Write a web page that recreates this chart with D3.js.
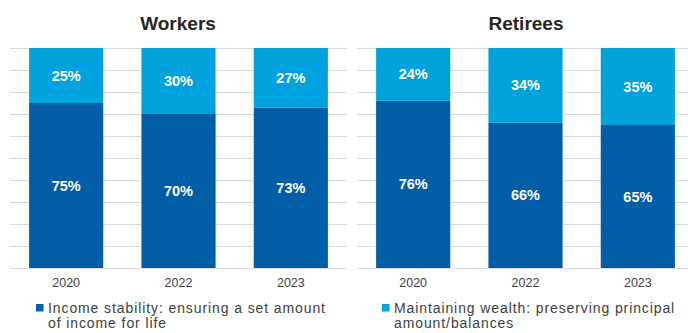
<!DOCTYPE html>
<html><head><meta charset="utf-8">
<script src="https://cdn.jsdelivr.net/npm/d3@7"></script>
<style>body{margin:0;background:#fff}svg{display:block}</style>
</head><body>
<svg id="c" width="688" height="333"></svg>
<script>
const years = ["2020", "2022", "2023"];
const panels = ["Workers", "Retirees"];
const incomeStability = [[75, 70, 73], [76, 66, 65]];
const maintainingWealth = [[25, 30, 27], [24, 34, 35]];
const seriesNames = ["Income stability: ensuring a set amount of income for life", "Maintaining wealth: preserving principal amount/balances"];
const legendLines = [["Income stability: ensuring a set amount", "of income for life"], ["Maintaining wealth: preserving principal", "amount/balances"]];
const gridTicks = [0,10,20,30,40,50,60,70,80,90,100];

const colors = ["#015DA5", "#00A2DD"];
const svg = d3.select("#c");
const font = "Liberation Sans, Arial, sans-serif";
const y = d3.scaleLinear().domain([0,100]).range([268,48]);
const panelX = [[10,347],[357,694]];
const titleX = [178, 526];

panels.forEach((p, i) => {
  const x = d3.scaleBand().domain(years).range(panelX[i]).paddingInner(0.34).paddingOuter(0.17);
  const g = svg.append("g");
  g.selectAll("line.grid").data(gridTicks).join("line")
    .attr("x1", panelX[i][0]).attr("x2", Math.min(panelX[i][1], 688))
    .attr("y1", d => y(d)+0.5).attr("y2", d => y(d)+0.5)
    .attr("stroke", "#d9d9d9").attr("stroke-width", 1);
  const data = years.map((yr, j) => ({yr, a: incomeStability[i][j], b: maintainingWealth[i][j]}));
  g.selectAll("rect.a").data(data).join("rect")
    .attr("x", d => x(d.yr)).attr("width", x.bandwidth())
    .attr("y", d => y(d.a)).attr("height", d => y(0) - y(d.a))
    .attr("fill", colors[0]);
  g.selectAll("rect.b").data(data).join("rect")
    .attr("x", d => x(d.yr)).attr("width", x.bandwidth())
    .attr("y", d => y(100)).attr("height", d => y(d.a) - y(100))
    .attr("fill", colors[1]);
  g.selectAll("text.a").data(data).join("text")
    .attr("x", d => x(d.yr) + x.bandwidth()/2)
    .attr("y", d => (y(0) + y(d.a))/2 + 5)
    .attr("text-anchor", "middle").attr("fill", "#fff")
    .attr("font-family", font).attr("font-weight", "bold").attr("font-size", 14.5)
    .text(d => d.a + "%");
  g.selectAll("text.b").data(data).join("text")
    .attr("x", d => x(d.yr) + x.bandwidth()/2)
    .attr("y", d => (y(100) + y(d.a))/2 + 5)
    .attr("text-anchor", "middle").attr("fill", "#fff")
    .attr("font-family", font).attr("font-weight", "bold").attr("font-size", 14.5)
    .text(d => d.b + "%");
  const ax = g.append("g").attr("transform", "translate(0,268)")
    .call(d3.axisBottom(x).tickSize(0).tickPadding(0));
  ax.select(".domain").remove();
  ax.selectAll("text").attr("font-family", font).attr("font-size", 12.5).attr("fill", "#404040")
    .attr("dy", null).attr("y", 19);
  g.append("text").attr("x", titleX[i]).attr("y", 30).attr("text-anchor", "middle")
    .attr("font-family", font).attr("font-weight", "bold").attr("font-size", 19).attr("fill", "#262626")
    .text(p);
});

const legX = [36, 382];
legendLines.forEach((lines, i) => {
  const g = svg.append("g");
  g.append("rect").attr("x", legX[i]).attr("y", 304).attr("width", 7.5).attr("height", 7.5).attr("fill", colors[i]);
  g.selectAll("text").data(lines).join("text")
    .attr("x", legX[i] + 12).attr("y", (d, k) => 313 + k*15)
    .attr("font-family", font).attr("font-size", 14).attr("letter-spacing", 0.9).attr("fill", "#404040")
    .text(d => d);
});
</script>
</body></html>
